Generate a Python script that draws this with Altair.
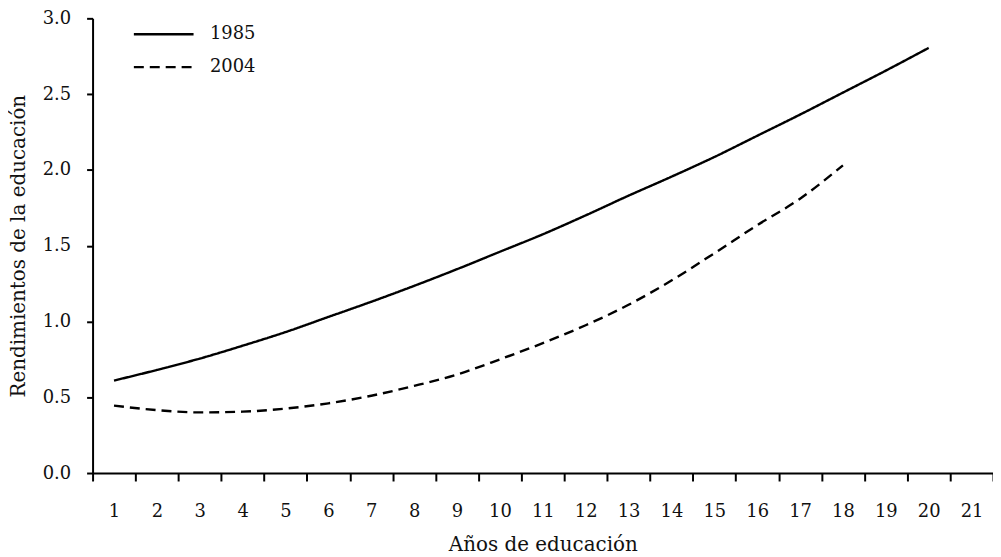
import altair as alt
import pandas as pd

years_1985 = list(range(1, 21))
vals_1985 = [0.61, 0.68, 0.755, 0.84, 0.93, 1.03, 1.13, 1.235, 1.345, 1.46,
             1.575, 1.70, 1.83, 1.955, 2.085, 2.225, 2.365, 2.51, 2.655, 2.805]
years_2004 = list(range(1, 19))
vals_2004 = [0.445, 0.415, 0.40, 0.405, 0.425, 0.46, 0.51, 0.575, 0.65, 0.75,
             0.857, 0.975, 1.11, 1.27, 1.45, 1.635, 1.81, 2.03]
x_categories = list(range(1, 22))
y_ticks = [0.0, 0.5, 1.0, 1.5, 2.0, 2.5, 3.0]
series_names = ["1985", "2004"]

df = pd.concat([
    pd.DataFrame({"year": years_1985, "value": vals_1985, "serie": "1985"}),
    pd.DataFrame({"year": years_2004, "value": vals_2004, "serie": "2004"}),
])

FONT = "DejaVu Serif"

chart = alt.Chart(df).mark_line(color="black", strokeWidth=2.4, interpolate="monotone").encode(
    x=alt.X("year:O",
            scale=alt.Scale(type="band", domain=x_categories, paddingInner=0, paddingOuter=0),
            bandPosition=0.5,
            axis=alt.Axis(title="Años de educación", tickBand="extent", labelAngle=0,
                          tickSize=8, labelPadding=22, titlePadding=14)),
    y=alt.Y("value:Q",
            scale=alt.Scale(domain=[0, 3], nice=False, zero=True),
            axis=alt.Axis(title="Rendimientos de la educación", values=y_ticks, format=".1f",
                          tickSize=6, labelPadding=16, titlePadding=14)),
    strokeDash=alt.StrokeDash("serie:N",
            scale=alt.Scale(domain=series_names, range=[[1, 0], [10, 6]]),
            legend=alt.Legend(title=None, orient="none", legendX=40, legendY=6,
                              symbolType="stroke", symbolSize=3600, symbolStrokeWidth=2.4,
                              symbolStrokeColor="black", labelOffset=15, rowPadding=13,
                              clipHeight=20,
                              labelFont=FONT, labelFontSize=18, labelColor="#111",
                              padding=0)),
).properties(
    width=905, height=457,
    autosize=alt.AutoSizeParams(type="none"),
    padding={"left": 85, "top": 9, "right": 0, "bottom": 82},
).configure_view(stroke=None).configure_axis(
    grid=False, domainColor="black", domainWidth=2, tickColor="black", tickWidth=2,
    labelFont=FONT, labelFontSize=18, labelColor="#111",
    titleFont=FONT, titleFontSize=20, titleFontWeight="normal", titleColor="#111",
)

chart.save("out.html", embed_options={"renderer": "svg", "actions": False})
